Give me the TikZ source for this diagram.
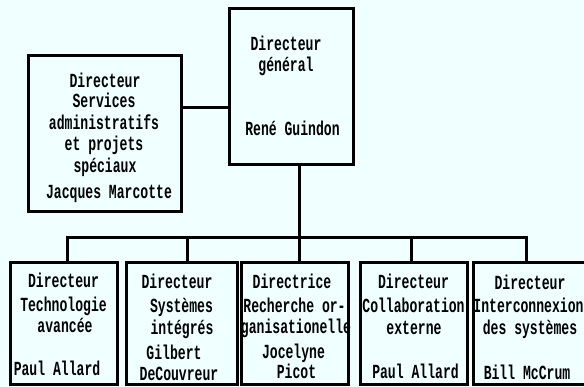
\documentclass[tikz,border=0pt]{standalone}
\usepackage{fontspec}
\newfontfamily\typo[FakeStretch=0.655]{Liberation Mono}
\definecolor{bg}{HTML}{F0FFFF}
\begin{document}
\begin{tikzpicture}[x=1pt,y=-1pt,
  box/.style={draw=black, line width=3pt, inner sep=0pt, outer sep=0pt},
  txt/.style={font=\typo\bfseries\fontsize{20}{20}\selectfont, anchor=base, inner sep=0pt, text=black},
  link/.style={draw=black, line width=3pt, line cap=rect}]
\fill[bg] (0,0) rectangle (584,386);
\useasboundingbox (0,0) rectangle (584,386);
% boxes
\node[box, minimum width=124pt, minimum height=156pt] (dg) at (291,86) {};
\node[box, minimum width=153pt, minimum height=156pt] (sa) at (104.5,133) {};
\node[box, minimum width=107pt, minimum height=122pt] (b1) at (63.5,323) {};
\node[box, minimum width=111pt, minimum height=122pt] (b2) at (181.5,323) {};
\node[box, minimum width=107pt, minimum height=122pt] (b3) at (294.5,323) {};
\node[box, minimum width=107pt, minimum height=122pt] (b4) at (413.5,323) {};
\node[box, minimum width=113pt, minimum height=122pt] (b5) at (529.5,323) {};
% connectors
\coordinate (j) at (0,107);
\draw[link] (sa.east |- j) -- (dg.west |- j);
\coordinate (v) at (299,237);
\coordinate (d1) at (67,237);
\coordinate (d2) at (187,237);
\coordinate (d4) at (411,237);
\coordinate (d5) at (526,237);
\draw[link] (dg.south -| v) -- (v) -- (b3.north -| v);
\draw[link, line cap=butt, line join=miter] (b1.north -| d1) -- (d1) -- (d5) -- (b5.north -| d5);
\draw[link] (d2) -- (b2.north -| d2);
\draw[link] (d4) -- (b4.north -| d4);
% DG text
\node[txt] (dg1) at (286,50) {Directeur};
\node[txt] (dg2) at (286,71) {général};
\node[txt] (dg3) at (292.5,135) {René Guindon};
% left box text
\node[txt] (sa1) at (105,87) {Directeur};
\node[txt] (sa2) at (104,107) {Services};
\node[txt] (sa3) at (104,129) {administratifs};
\node[txt] (sa4) at (104,150) {et projets};
\node[txt] (sa5) at (105,172) {spéciaux};
\node[txt] (sa6) at (109,198) {Jacques Marcotte};
% b1
\node[txt] (b11) at (63.5,287) {Directeur};
\node[txt] (b12) at (63.5,311) {Technologie};
\node[txt] (b13) at (65,332) {avancée};
\node[txt] (b14) at (57,375) {Paul Allard};
% b2
\node[txt] (b21) at (177,288) {Directeur};
\node[txt] (b22) at (181.5,312) {Systèmes};
\node[txt] (b23) at (182,334) {intégrés};
\node[txt] (b24) at (174,359) {Gilbert};
\node[txt] (b25) at (179,380) {DeCouvreur};
% b3
\node[txt] (b31) at (292,288) {Directrice};
\node[txt] (b32) at (294.5,312) {Recherche or-};
\node[txt] (b33) at (296,333) {ganisationelle};
\node[txt] (b34) at (293.5,358) {Jocelyne};
\node[txt] (b35) at (296.5,378) {Picot};
% b4
\node[txt] (b41) at (413.5,288) {Directeur};
\node[txt] (b42) at (413.5,312) {Collaboration};
\node[txt] (b43) at (414,334) {externe};
\node[txt] (b44) at (415.5,378) {Paul Allard};
% b5
\node[txt] (b51) at (530,289) {Directeur};
\node[txt] (b52) at (528.5,312) {Interconnexion};
\node[txt] (b53) at (530,334) {des systèmes};
\node[txt] (b54) at (527,379) {Bill McCrum};
\end{tikzpicture}
\end{document}
